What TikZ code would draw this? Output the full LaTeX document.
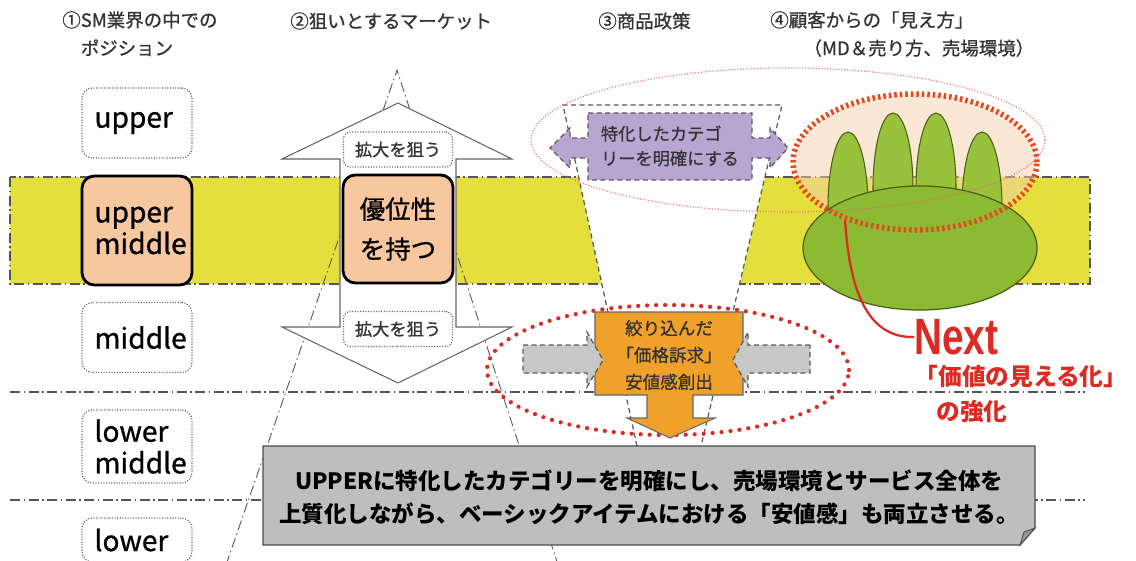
\documentclass[tikz,border=0pt]{standalone}
\usepackage{fontspec}
\setmainfont{Noto Sans CJK JP}
\newfontfamily\medfont{Noto Sans CJK JP}[FakeBold=0.9]
\newfontfamily\nextfont{Liberation Sans}
\usetikzlibrary{shapes.geometric}
\definecolor{band}{HTML}{E5DF3D}
\definecolor{peach}{HTML}{F7C8A0}
\definecolor{lavender}{HTML}{B9A5D2}
\definecolor{callout}{HTML}{F0A12C}
\definecolor{sumgray}{HTML}{BEBEBE}
\definecolor{grass}{HTML}{8CBB33}
\definecolor{bump}{HTML}{98C13C}
\definecolor{leaf}{HTML}{4B5E12}
\definecolor{visfill}{HTML}{F5CFAE}
\definecolor{accent}{HTML}{DD2A22}
\definecolor{ring}{HTML}{E4481E}
\definecolor{rule}{HTML}{555555}

\begin{document}
\begin{tikzpicture}[x=0.2mm, y=-0.2mm,
  head/.style={anchor=west, inner sep=0pt, align=left, text=black!80, font=\medfont\fontsize{10.5}{16}\selectfont},
  tier/.style={draw=black!60, line width=0.7pt, dash pattern=on 0.6pt off 0.9pt, rounded corners=6pt,
    minimum width=22mm, minimum height=14mm, text width=17mm, align=left, inner sep=0pt, font=\medfont\fontsize{16}{18}\selectfont},
  core/.style={draw=black, solid, line width=1.6pt, rounded corners=7pt, fill=peach, inner sep=0pt},
  aim/.style={draw=black!60, line width=0.7pt, dash pattern=on 0.6pt off 0.9pt, rounded corners=4pt,
    minimum width=21.8mm, minimum height=7mm, inner sep=0pt, text=black!80, font=\medfont\fontsize{9.8}{12}\selectfont},
  chain/.style={draw=rule, line width=0.6pt, dash pattern=on 2mm off 0.7mm on 0.3mm off 0.7mm},
  funnel/.style={draw=black!65, line width=0.7pt, dash pattern=on 1mm off 0.7mm},
  oval/.style={ellipse, inner sep=0pt},
  label/.style={inner sep=0pt, align=center, text=black!80}
]
  \useasboundingbox (0,0) rectangle (1136,560);
  \clip (0,0) rectangle (1136,560);

  % band and tier rules
  \draw[chain, fill=band] (10,177) rectangle (1090,284);
  \draw[chain] (10,392) -- (1085,392);
  \draw[chain] (10,500) -- (1085,500);
  \draw[chain, line width=0.5pt] (226,565) -- (397,70) -- (558,565);

  % funnel of the product policy
  \fill[white] (637,446) -- (563,105) -- (782,105) -- (701,446) -- cycle;
  \draw[funnel] (637,446) -- (563,105) -- (782,105) -- (701,446);

  % headers
  \node[head, anchor=north west] (h1) at (62,11) {①SM業界の中での\\\hspace*{1em}ポジション};
  \node[head] (h2) at (290,21) {②狙いとするマーケット};
  \node[head] (h3) at (598,21) {③商品政策};
  \node[head, anchor=north west] (h4) at (770,11) {④顧客からの「見え方」\\\hspace*{1.8em}（MD＆売り方、売場環境）};

  % positions
  \node[tier] (upper) at (137,123) {upper};
  \node[tier, core, minimum height=21.8mm] (um) at (137,230.5) {upper\\middle};
  \node[tier] (middle) at (137,337.5) {middle};
  \node[tier, minimum height=14.6mm] (lm) at (137,446.5) {lower\\middle};
  \node[tier, minimum height=8.8mm] (lower) at (137,540) {lower};

  % target market
  \draw[draw=black!60, fill=white, line width=0.6pt] (398,103) -- (512,159) -- (456,159) -- (456,327)
    -- (512,327) -- (398,383) -- (282,327) -- (340,327) -- (340,159) -- (282,159) -- cycle;
  \node[aim] (aimup) at (398,149.5) {拡大を狙う};
  \node[core, minimum width=22mm, minimum height=21.6mm, align=center, font=\medfont\fontsize{14.5}{22.7}\selectfont] (edge) at (398,229) {優位性\\を持つ};
  \node[aim] (aimdown) at (398,329) {拡大を狙う};

  % product policy
  \node[oval, draw=accent, line width=0.85mm, dash pattern=on 0pt off 1.8mm, line cap=round,
    minimum width=72.4mm, minimum height=26mm] (pricering) at (668,370) {};
  \draw[funnel, fill=lavender] (588,113) -- (752,113) -- (752,138) -- (770,138) -- (770,128) -- (788,148)
    -- (770,168) -- (770,158) -- (752,158) -- (752,180) -- (588,180) -- (588,158) -- (570,158)
    -- (570,168) -- (550,148) -- (570,128) -- (570,138) -- (588,138) -- cycle;
  \node[label, align=left, font=\medfont\fontsize{9.8}{14}\selectfont] (focus) at (670,146) {特化したカテゴ\\リーを明確にする};
  \draw[draw=black!60, line width=0.6pt, fill=callout] (595,312) -- (743,312) -- (743,395) -- (693,395)
    -- (693,418) -- (715,418) -- (670,438) -- (627,418) -- (647,418) -- (647,395) -- (595,395) -- cycle;
  \node[label, font=\medfont\fontsize{10}{15.3}\selectfont] (price) at (669,355) {絞り込んだ\\「価格訴求」\\安値感創出};
  \draw[funnel, fill=black!22] (523,345) -- (587,345) -- (587,332) -- (603,360) -- (587,387) -- (587,373) -- (523,373) -- cycle;
  \draw[funnel, fill=black!22] (810,345) -- (748,345) -- (748,332) -- (733,360) -- (748,387) -- (748,373) -- (810,373) -- cycle;

  % customer view
  \node[oval, fill=visfill, fill opacity=0.5, minimum width=48.8mm, minimum height=27.2mm] (vis) at (915,162) {};
  \foreach \bx/\by in {848/207, 893/188, 936/188, 982/207}
    \node[oval, draw=leaf, line width=0.6pt, fill=bump, minimum width=8mm, minimum height=30mm] (bump\bx) at (\bx,\by) {};
  \node[oval, draw=leaf, line width=0.7pt, fill=grass, minimum width=46.8mm, minimum height=24.8mm] (mound) at (920,248) {};
  \node[oval, draw=ring, line width=1.1mm, dash pattern=on 0.5mm off 0.6mm, minimum width=48.8mm, minimum height=27.2mm] (visring) at (vis.center) {};
  \node[oval, draw=accent!70, line width=0.6pt, dash pattern=on 0.6pt off 1pt, minimum width=102.8mm, minimum height=28.8mm] (focusring) at (788,140) {};

  % summary
  \draw[draw=black!70, line width=0.7pt, fill=sumgray] (263,446) -- (1035,446) -- (1035,528) -- (1020,545) -- (263,545) -- cycle;
  \draw[draw=black!70, line width=0.5pt, fill=black!40] (1035,528) -- (1024,532) -- (1020,545) -- cycle;
  \node[label, text=black, font=\bfseries\fontsize{12.8}{18.7}\selectfont] (summary) at (649,497)
    {UPPERに特化したカテゴリーを明確にし、売場環境とサービス全体を\\上質化しながら、ベーシックアイテムにおける「安値感」も両立させる。};

  % next step
  \node[anchor=west, inner sep=0pt, text=accent, font=\nextfont\bfseries\fontsize{29}{29}\selectfont] (next) at (914,337) {\scalebox{0.76}[1]{Next}};
  \node[inner sep=0pt, text=accent, font=\bfseries\fontsize{13.5}{16}\selectfont] (value) at (1021,377) {「価値の見える化」};
  \node[inner sep=0pt, text=accent, font=\bfseries\fontsize{13.5}{16}\selectfont] (boost) at (972,412) {の強化};
  \draw[accent, line width=0.45mm] (visring.220) .. controls (850,300) and (872,338) .. (next.west);
\end{tikzpicture}
\end{document}
